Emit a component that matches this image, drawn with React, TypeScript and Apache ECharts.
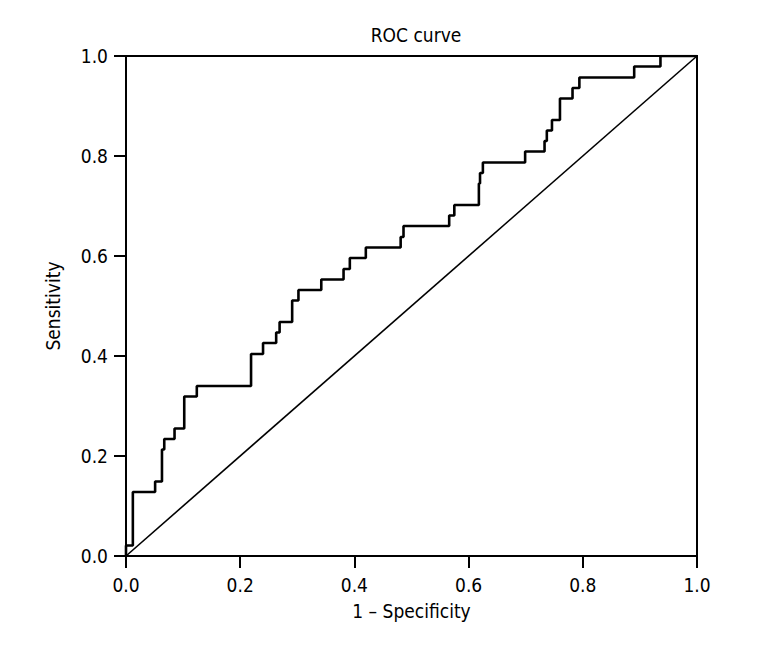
import React, { useEffect, useRef } from "react";
import * as echarts from "echarts";

// ROC curve corner points: after moving right to fpr[i], the curve rises to tpr[i]
const fpr = [0, 0, 0.012, 0.051, 0.063, 0.067, 0.085, 0.102, 0.124, 0.219, 0.24, 0.263, 0.269, 0.291, 0.302, 0.342, 0.381, 0.392, 0.42, 0.481, 0.486, 0.566, 0.575, 0.618, 0.62, 0.625, 0.699, 0.733, 0.737, 0.746, 0.76, 0.782, 0.794, 0.89, 0.936, 1.0];
const tpr = [0, 0.021, 0.128, 0.149, 0.213, 0.234, 0.255, 0.319, 0.34, 0.404, 0.426, 0.447, 0.468, 0.511, 0.532, 0.553, 0.574, 0.596, 0.617, 0.638, 0.66, 0.681, 0.702, 0.745, 0.766, 0.787, 0.809, 0.83, 0.851, 0.872, 0.915, 0.936, 0.957, 0.979, 1.0, 1.0];

const reference = [
  [0, 0],
  [1, 1],
];
const tickLabels = ["0.0", "0.2", "0.4", "0.6", "0.8", "1.0"];

const FONT = "'Liberation Sans Narrow', 'DejaVu Sans Condensed', 'Liberation Sans', sans-serif";

function buildSteps(): number[][] {
  const pts: number[][] = [[fpr[0], tpr[0]]];
  for (let i = 1; i < fpr.length; i++) {
    pts.push([fpr[i], tpr[i - 1]]);
    pts.push([fpr[i], tpr[i]]);
  }
  return pts;
}

export default function App() {
  const ref = useRef<HTMLDivElement>(null);
  useEffect(() => {
    if (!ref.current) return;
    const chart = echarts.init(ref.current, undefined, { renderer: "svg" });
    const fmt = (v: number) => tickLabels[Math.round(v * 5)] ?? v.toFixed(1);
    chart.setOption({
      animation: false,
      backgroundColor: "#fff",
      title: {
        text: "ROC curve",
        left: 403,
        textAlign: "center",
        top: 12,
        textStyle: { fontFamily: FONT, fontSize: 19, fontWeight: "normal", color: "#000" },
      },
      grid: {
        left: 118,
        right: 63,
        top: 48,
        bottom: 84,
        show: true,
        borderColor: "#000",
        borderWidth: 2,
        backgroundColor: "transparent",
      },
      xAxis: {
        type: "value",
        min: 0,
        max: 1,
        interval: 0.2,
        name: "1 – Specificity",
        nameLocation: "middle",
        nameGap: 45,
        nameTextStyle: { fontFamily: FONT, fontSize: 19, color: "#000" },
        axisLine: { show: true, onZero: false, lineStyle: { color: "#000", width: 2 } },
        axisTick: { show: true, length: 12, lineStyle: { color: "#000", width: 2 } },
        axisLabel: { formatter: fmt, margin: 19, fontFamily: FONT, fontSize: 19, color: "#000" },
        splitLine: { show: false },
      },
      yAxis: {
        type: "value",
        min: 0,
        max: 1,
        interval: 0.2,
        name: "Sensitivity",
        nameLocation: "middle",
        nameGap: 64,
        nameTextStyle: { fontFamily: FONT, fontSize: 19, color: "#000" },
        axisLine: { show: true, onZero: false, lineStyle: { color: "#000", width: 2 } },
        axisTick: { show: true, length: 12, lineStyle: { color: "#000", width: 2 } },
        axisLabel: { formatter: fmt, margin: 18, fontFamily: FONT, fontSize: 19, color: "#000" },
        splitLine: { show: false },
      },
      series: [
        {
          type: "line",
          data: reference,
          showSymbol: false,
          lineStyle: { color: "#000", width: 1.6 },
          silent: true,
        },
        {
          type: "line",
          data: buildSteps(),
          showSymbol: false,
          lineStyle: { color: "#000", width: 2.6 },
          silent: true,
        },
      ],
    });
    return () => chart.dispose();
  }, []);
  return <div ref={ref} style={{ width: 752, height: 632 }} />;
}
